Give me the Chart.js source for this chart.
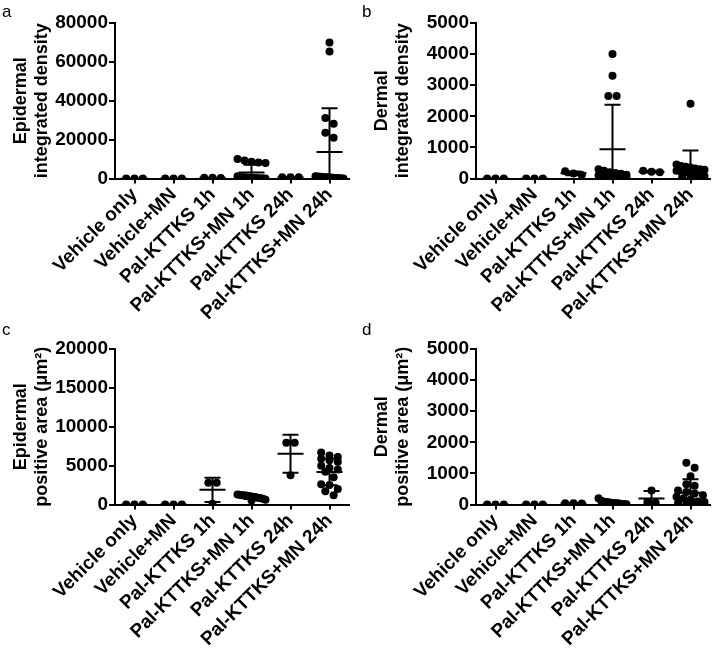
<!DOCTYPE html>
<html>
<head>
<meta charset="utf-8">
<script src="https://cdn.jsdelivr.net/npm/chart.js"></script>
<style>
  body { margin: 0; background: #fff; }
  #wrap { position: relative; width: 719px; height: 652px; font-family: "Liberation Sans", Arial, sans-serif; }
  .panel { position: absolute; width: 360px; height: 326px; }
  .letter { position: absolute; font-size: 17px; line-height: 1; color: #000; }
</style>
</head>
<body>
<div id="wrap">
  <div class="panel" style="left:0;top:0"><canvas id="chartA" width="360" height="326"></canvas></div>
  <div class="panel" style="left:361px;top:0"><canvas id="chartB" width="360" height="326"></canvas></div>
  <div class="panel" style="left:0;top:326px"><canvas id="chartC" width="360" height="326"></canvas></div>
  <div class="panel" style="left:361px;top:326px"><canvas id="chartD" width="360" height="326"></canvas></div>
  <div class="letter" style="left:2px;top:3px">a</div>
  <div class="letter" style="left:362px;top:3px">b</div>
  <div class="letter" style="left:2px;top:321px">c</div>
  <div class="letter" style="left:362px;top:321px">d</div>
</div>
<script>
const categories = ['Vehicle only', 'Vehicle+MN', 'Pal-KTTKS 1h', 'Pal-KTTKS+MN 1h', 'Pal-KTTKS 24h', 'Pal-KTTKS+MN 24h'];

// a: epidermal integrated density
const epiDensity = [
  [0, 0, 0],
  [0, 0, 0],
  [400, 300, 350],
  [10000, 8200, 9200, 8600, 8000, 1200, 900, 700, 500, 400, 300, 200, 150, 100, 50],
  [700, 600, 650],
  [70000, 65300, 31100, 28200, 23600, 21000, 1200, 1000, 900, 800, 700, 600, 500, 400, 300, 200, 100, 50]
];
const epiDensityMean = [0, 0, 350, 3100, 650, 13600];
const epiDensitySD = [0, 0, 50, 4000, 50, 22600];
const epiDensityTicks = [0, 20000, 40000, 60000, 80000];

// b: dermal integrated density
const derDensity = [
  [0, 0, 0],
  [0, 0, 0],
  [230, 160, 110],
  [4000, 3300, 2650, 2650, 300, 250, 200, 180, 150, 120, 100, 80, 60, 40, 20],
  [250, 220, 200],
  [2400, 450, 400, 380, 350, 320, 300, 280, 250, 220, 200, 150, 120, 100, 80, 50, 30, 10]
];
const derDensityMean = [0, 0, 165, 940, 220, 350];
const derDensitySD = [0, 0, 60, 1430, 30, 550];
const derDensityTicks = [0, 1000, 2000, 3000, 4000, 5000];

// c: epidermal positive area
const epiArea = [
  [0, 0, 0],
  [0, 0, 0],
  [2800, 2800, 100],
  [1300, 1250, 1200, 1200, 1150, 1100, 1050, 1000, 950, 900, 850, 800, 700, 600, 500],
  [7950, 7950, 3750],
  [6700, 6300, 6100, 5900, 5700, 5500, 5000, 4700, 4500, 4200, 3500, 2600, 2500, 2000, 1700, 1200]
];
const epiAreaMean = [0, 0, 1890, 970, 6530, 4170];
const epiAreaSD = [0, 0, 1560, 250, 2440, 1700];
const epiAreaTicks = [0, 5000, 10000, 15000, 20000];

// d: dermal positive area
const derArea = [
  [0, 0, 0],
  [0, 0, 0],
  [40, 30, 40],
  [200, 120, 100, 80, 70, 60, 50, 40, 30, 20, 15, 10, 5, 5, 0],
  [450, 80, 60],
  [1340, 1180, 910, 650, 600, 450, 400, 350, 300, 250, 200, 150, 100, 80, 50, 30, 20, 10]
];
const derAreaMean = [0, 0, 35, 60, 195, 380];
const derAreaSD = [0, 0, 10, 60, 240, 430];
const derAreaTicks = [0, 1000, 2000, 3000, 4000, 5000];

const FONT = '"Liberation Sans", Arial, sans-serif';

// mean line + SD whiskers, drawn through the chart scales
const errorBarPlugin = {
  id: 'errorBars',
  afterDatasetsDraw(chart, args, opts) {
    const { ctx, chartArea: a, scales: { x, y } } = chart;
    ctx.save();
    ctx.beginPath();
    ctx.rect(a.left, a.top - 3, a.right - a.left, a.bottom - a.top + 3);
    ctx.clip();
    ctx.strokeStyle = '#000';
    ctx.lineWidth = 2;
    opts.means.forEach((m, i) => {
      const cx = x.getPixelForValue(i);
      const py = y.getPixelForValue(m);
      const top = y.getPixelForValue(m + opts.sds[i]);
      const bot = y.getPixelForValue(m - opts.sds[i]);
      ctx.beginPath();
      ctx.moveTo(cx - 13, py); ctx.lineTo(cx + 13, py);
      ctx.moveTo(cx, top); ctx.lineTo(cx, bot);
      ctx.moveTo(cx - 8, top); ctx.lineTo(cx + 8, top);
      ctx.moveTo(cx - 8, bot); ctx.lineTo(cx + 8, bot);
      ctx.stroke();
    });
    ctx.restore();
  }
};

function makePanel(id, title, values, means, sds, ticks) {
  const points = [];
  values.forEach((grp, gi) => grp.forEach(v => points.push({ x: gi, y: v, g: gi })));

  const chart = new Chart(document.getElementById(id), {
    type: 'scatter',
    data: {
      datasets: [{
        data: points,
        backgroundColor: '#000',
        borderColor: '#000',
        borderWidth: 0,
        pointRadius: 4,
        pointHoverRadius: 4
      }]
    },
    options: {
      responsive: false,
      animation: false,
      events: [],
      layout: { padding: { top: 23, right: 11, left: 0, bottom: 0 } },
      plugins: {
        legend: { display: false },
        tooltip: { enabled: false },
        errorBars: { means: means, sds: sds }
      },
      scales: {
        x: {
          type: 'linear',
          min: -0.5,
          max: categories.length - 0.5,
          afterBuildTicks: s => { s.ticks = categories.map((c, i) => ({ value: i })); },
          afterFit: s => { s.height = 147.5; },
          ticks: {
            callback: v => categories[v],
            autoSkip: false,
            minRotation: 45,
            maxRotation: 45,
            padding: 0,
            color: '#000',
            font: { family: FONT, size: 19, weight: 'bold' }
          },
          grid: { drawOnChartArea: false, color: '#000', lineWidth: 2, tickLength: 5 },
          border: { color: '#000', width: 2 }
        },
        y: {
          min: ticks[0],
          max: ticks[ticks.length - 1],
          afterBuildTicks: s => { s.ticks = ticks.map(v => ({ value: v })); },
          afterFit: s => { s.width = 115; },
          ticks: {
            callback: v => String(v),
            padding: 1,
            color: '#000',
            font: { family: FONT, size: 19, weight: 'bold' }
          },
          grid: { drawOnChartArea: false, color: '#000', lineWidth: 2, tickLength: 6 },
          border: { color: '#000', width: 2 },
          title: {
            display: true,
            text: title,
            color: '#000',
            padding: { top: 10, bottom: 0 },
            font: { family: FONT, size: 18, weight: 'bold', lineHeight: 1.2 }
          }
        }
      }
    },
    plugins: [errorBarPlugin]
  });

  // spread points that sit at about the same height, like a dot plot
  const xs = chart.scales.x, ys = chart.scales.y;
  const unit = xs.getPixelForValue(1) - xs.getPixelForValue(0);
  const step = 8.3, maxHalf = 14, rowGap = 6;
  values.forEach((grp, gi) => {
    const pts = points.filter(p => p.g === gi).sort((a, b) => b.y - a.y);
    let row = [];
    const flush = () => {
      const n = row.length;
      const s = n > 1 ? Math.min(step, 2 * maxHalf / (n - 1)) : 0;
      row.forEach((p, k) => { p.x = gi + (k - (n - 1) / 2) * s / unit; });
      row = [];
    };
    pts.forEach(p => {
      if (row.length && Math.abs(ys.getPixelForValue(p.y) - ys.getPixelForValue(row[0].y)) > rowGap) flush();
      row.push(p);
    });
    flush();
  });
  chart.update('none');
  return chart;
}

makePanel('chartA', ['Epidermal', 'integrated density'], epiDensity, epiDensityMean, epiDensitySD, epiDensityTicks);
makePanel('chartB', ['Dermal', 'integrated density'], derDensity, derDensityMean, derDensitySD, derDensityTicks);
makePanel('chartC', ['Epidermal', 'positive area (μm²)'], epiArea, epiAreaMean, epiAreaSD, epiAreaTicks);
makePanel('chartD', ['Dermal', 'positive area (μm²)'], derArea, derAreaMean, derAreaSD, derAreaTicks);
</script>
</body>
</html>
